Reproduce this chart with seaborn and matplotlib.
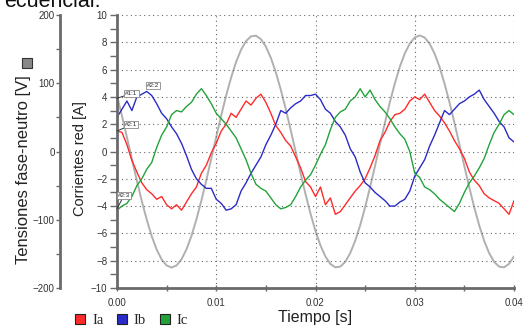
import numpy as np
import pandas as pd
import matplotlib
matplotlib.use("Agg")
import matplotlib.pyplot as plt
import matplotlib.lines as mlines
from matplotlib.ticker import MultipleLocator, FixedLocator, FixedFormatter
import seaborn as sns

# sample times (s), one reading every 0.5 ms
time_s = np.round(np.arange(0, 0.04001, 0.0005), 4)

# line currents (A)
ia = [1.5, 1.4, 0.5, -0.66, -1.5, -2.3, -2.8, -3.1, -3.5, -3.3,
      -3.9, -4.2, -3.9, -4.3, -3.7, -3.1, -2.6, -1.6, -1.0, -0.1,
      0.6, 1.5, 2.0, 2.8, 2.5, 3.1, 3.7, 3.4, 3.9, 4.2,
      3.6, 2.8, 1.9, 1.4, 0.8, 0.4, -0.4, -1.2, -2.2, -2.6,
      -3.3, -2.6, -3.9, -3.4, -4.6, -4.4, -3.9, -3.4, -2.9, -2.5,
      -2.0, -1.2, -0.3, 0.8, 1.4, 2.2, 2.7, 2.8, 3.1, 3.7,
      4.0, 3.8, 4.2, 3.6, 3.0, 2.6, 2.1, 1.5, 0.8, 0.2,
      -0.5, -1.5, -2.1, -2.5, -3.1, -3.4, -3.6, -3.8, -4.2, -4.6,
      -3.6]
ib = [2.5, 3.1, 3.7, 3.0, 4.0, 4.2, 4.4, 4.1, 3.5, 2.8,
      2.4, 1.8, 1.3, 0.6, -0.3, -1.3, -2.0, -2.4, -2.7, -2.7,
      -3.5, -3.8, -4.3, -4.2, -3.9, -2.9, -2.3, -1.6, -1.0, -0.4,
      0.5, 1.2, 2.0, 3.0, 2.8, 3.2, 3.5, 3.7, 4.1, 4.1,
      4.2, 3.8, 3.1, 2.8, 2.2, 1.8, 1.2, 0.2, -0.4, -1.5,
      -2.3, -2.6, -3.0, -3.3, -3.6, -4.0, -4.0, -3.7, -3.5, -2.9,
      -1.8, -1.2, -0.6, 0.4, 1.2, 2.1, 3.0, 2.7, 3.1, 3.5,
      3.7, 4.0, 4.2, 4.5, 3.8, 3.3, 2.8, 2.2, 1.8, 1.0,
      0.7]
ic = [-4.3, -4.0, -3.8, -3.3, -2.5, -2.0, -1.3, -0.8, 0.3, 1.2,
      1.8, 2.7, 3.0, 2.9, 3.3, 3.6, 4.2, 4.6, 4.1, 3.5,
      2.8, 2.4, 2.0, 1.5, 1.0, 0.2, -0.6, -1.6, -2.4, -2.7,
      -2.9, -3.4, -3.9, -4.2, -4.1, -3.9, -3.3, -2.6, -2.1, -1.7,
      -1.0, -0.2, 0.5, 1.6, 2.5, 2.9, 3.1, 3.7, 4.0, 4.6,
      4.0, 4.5, 3.8, 3.3, 2.9, 2.4, 1.8, 1.3, 0.9, 0.0,
      -1.6, -1.9, -2.6, -2.8, -3.1, -3.5, -3.8, -4.1, -4.4, -3.8,
      -3.0, -2.3, -1.8, -1.2, -0.5, 0.5, 1.4, 2.0, 2.7, 3.0,
      2.7]

# phase-to-neutral voltage (V)
va = [81.6, 52.2, 21.0, -11.0, -42.6, -72.7, -100.1, -124.2, -143.8, -158.2,
      -167.0, -170.0, -166.9, -157.9, -143.4, -123.7, -99.6, -72.1, -42.0, -10.3,
      21.6, 52.8, 82.1, 108.5, 131.2, 149.1, 161.8, 168.7, 169.7, 164.6,
      153.7, 137.3, 116.1, 90.8, 62.3, 31.5, -0.3, -32.2, -62.9, -91.3,
      -116.5, -137.7, -153.9, -164.8, -169.7, -168.7, -161.6, -148.8, -130.8, -108.1,
      -81.6, -52.2, -21.0, 11.0, 42.6, 72.7, 100.1, 124.2, 143.8, 158.2,
      167.0, 170.0, 166.9, 157.9, 143.4, 123.7, 99.6, 72.1, 42.0, 10.3,
      -21.6, -52.8, -82.1, -108.5, -131.2, -149.1, -161.8, -168.7, -169.7, -164.6,
      -153.7]

phases = ['Ia', 'Ib', 'Ic']
phase_colors = {'Ia': '#ff2a2a', 'Ib': '#2b2bc8', 'Ic': '#22a33a'}
volt_ticks = [-200, -100, 0, 100, 200]
time_ticks = [0.0, 0.01, 0.02, 0.03, 0.04]
time_labels = ['0.00', '0.01', '0.02', '0.03', '0.04']

df_i = pd.DataFrame({
    'Tiempo': np.tile(time_s, 3),
    'Corriente': ia + ib + ic,
    'Fase': np.repeat(phases, len(time_s)),
})
df_v = pd.DataFrame({'Tiempo': time_s, 'Tension': va})

sns.set_theme(style="white")
plt.rcParams['font.family'] = ['Liberation Sans', 'DejaVu Sans']

spine_col = '#6a6a6a'
tick_col = '#333333'

fig = plt.figure(figsize=(5.32, 3.29), dpi=100)
ax = fig.add_axes([117 / 532, 1 - 288 / 329, 397 / 532, 273 / 329])
ax2 = ax.twinx()

sns.lineplot(data=df_v, x='Tiempo', y='Tension', color='#b0b0b0', lw=1.4,
             estimator=None, ax=ax2)
sns.lineplot(data=df_i, x='Tiempo', y='Corriente', hue='Fase', palette=phase_colors,
             estimator=None, lw=1.0, legend=False, ax=ax)

ax.set_zorder(ax2.get_zorder() + 1)
ax.patch.set_visible(False)

# current axis
ax.set_xlim(0, 0.04)
ax.set_ylim(-10, 10)
ax.yaxis.set_major_locator(MultipleLocator(2))
ax.yaxis.set_minor_locator(MultipleLocator(1))
ax.xaxis.set_major_locator(FixedLocator(time_ticks))
ax.xaxis.set_major_formatter(FixedFormatter(time_labels))
ax.xaxis.set_minor_locator(MultipleLocator(0.005))
ax.tick_params(axis='y', which='both', direction='out', length=5, width=1,
               color=spine_col, labelsize=7, labelcolor=tick_col, pad=2, left=True)
ax.tick_params(axis='x', which='both', direction='inout', length=5, width=1,
               color=spine_col, labelsize=7, labelcolor=tick_col, pad=5, bottom=True)
ax.grid(True, which='major', color='#666666', linestyle=(0, (1, 3)), lw=0.8)
ax.set_xlabel('Tiempo [s]', fontsize=11.5, color='#222222', labelpad=1)
ax.set_ylabel('Corrientes red [A]', fontsize=10.5, color='#222222')
ax.yaxis.set_label_coords(-0.0756, 0.4725)
for side in ['top', 'right']:
    ax.spines[side].set_visible(False)
for side in ['left', 'bottom']:
    ax.spines[side].set_color(spine_col)
    ax.spines[side].set_linewidth(2)

# voltage axis, pushed out to the left
ax2.set_ylim(-200, 200)
ax2.yaxis.set_ticks_position('left')
ax2.yaxis.set_label_position('left')
ax2.spines['left'].set_position(('outward', 41))
ax2.spines['left'].set_color(spine_col)
ax2.spines['left'].set_linewidth(2)
for side in ['top', 'right', 'bottom']:
    ax2.spines[side].set_visible(False)
ax2.yaxis.set_major_locator(FixedLocator(volt_ticks))
ax2.yaxis.set_minor_locator(MultipleLocator(50))
ax2.tick_params(axis='y', which='both', direction='out', length=3, width=1,
                color=spine_col, labelsize=7, labelcolor=tick_col, pad=1)
ax2.set_ylabel('Tensiones fase-neutro [V]', fontsize=12, color='#222222')
ax2.yaxis.set_label_coords(-0.216, 0.432)
ax2.set_xlabel('')

# marker tags
tag_box = dict(boxstyle='square,pad=0.15', fc='white', ec='#888888', lw=0.6)
tag_arrow = dict(arrowstyle='-', color='#333333', lw=0.7, shrinkA=0, shrinkB=0)
ax.annotate('#1:1', xy=(0.0, 3.9), xytext=(0.00085, 4.25), fontsize=4.5, va='center',
            bbox=tag_box, arrowprops=tag_arrow)
ax.annotate('#2:2', xy=(0.0031, 4.5), xytext=(0.003, 4.85), fontsize=4.5, va='center',
            bbox=tag_box)
ax.annotate('#2:1', xy=(0.0, 1.5), xytext=(0.0008, 1.95), fontsize=4.5, va='center',
            bbox=tag_box, arrowprops=tag_arrow)
ax.annotate('#2:3', xy=(0.0, -4.2), xytext=(0.0001, -3.2), fontsize=4.5, va='center',
            bbox=tag_box, arrowprops=tag_arrow)

# legends
handles = [mlines.Line2D([], [], ls='none', marker='s', markersize=7,
                         mfc=phase_colors[p], mec='#222222', mew=0.8) for p in phases]
fig.legend(handles, phases, loc='lower left', bbox_to_anchor=(60 / 532, -0.035),
           ncol=3, frameon=False, handletextpad=0.3, columnspacing=0.8,
           handlelength=1.0, prop={'family': 'Liberation Serif', 'size': 10.5})
fig.add_artist(mlines.Line2D([27 / 532], [1 - 63 / 329], ls='none', marker='s',
                             markersize=7, mfc='#888888', mec='#333333', mew=0.8,
                             transform=fig.transFigure))

# tail of the sentence above the figure, clipped by the top edge
fig.text(4 / 532, 1 - 7 / 329, 'ecuencial.', fontsize=15.5, color='#111111',
         va='baseline', ha='left')

fig.savefig('out.png', dpi=100)
plt.close(fig)
